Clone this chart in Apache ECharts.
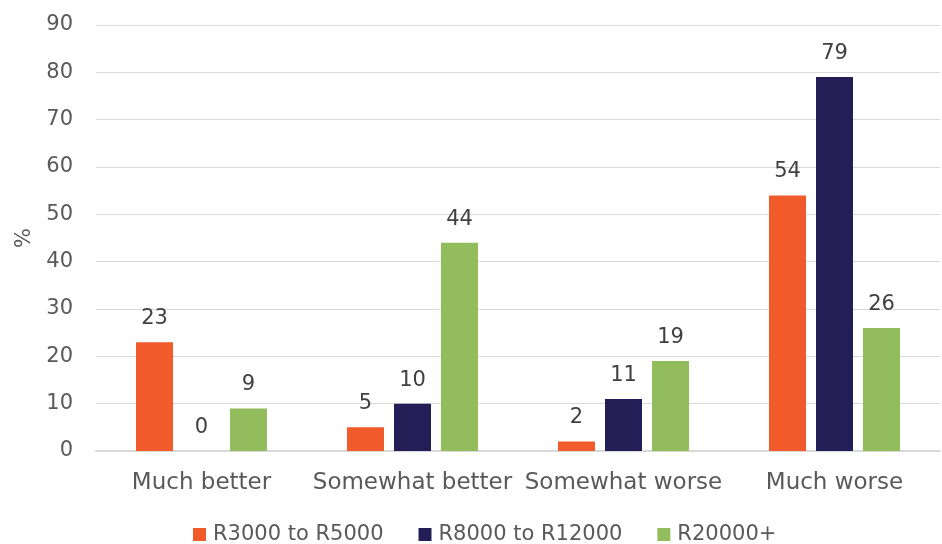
<!DOCTYPE html>
<html>
<head>
<meta charset="utf-8">
<script src="https://cdn.jsdelivr.net/npm/echarts@6/dist/echarts.min.js"></script>
<style>
html, body { margin: 0; padding: 0; background: #fff; }
#chart { width: 942px; height: 544px; }
</style>
</head>
<body>
<div id="chart"></div>
<script>
// Change in household situation, by income band (%)
const categories = ['Much better', 'Somewhat better', 'Somewhat worse', 'Much worse'];
const seriesNames = ['R3000 to R5000', 'R8000 to R12000', 'R20000+'];
const low = [23, 5, 2, 54];
const mid = [0, 10, 11, 79];
const high = [9, 44, 19, 26];
const colors = ['#F15A2B', '#231E55', '#93BC5C'];

const font = '"Century Gothic", "DejaVu Sans", sans-serif';
const textColor = '#595959';

const values = [low, mid, high];
const series = seriesNames.map((name, i) => ({
  name: name,
  type: 'bar',
  data: values[i],
  barWidth: 37,
  barGap: '27%',
  itemStyle: { color: colors[i] },
  label: {
    show: true,
    position: 'top',
    distance: 13,
    fontFamily: font,
    fontSize: 21,
    color: '#404040'
  }
}));

const chart = echarts.init(document.getElementById('chart'), null, { renderer: 'canvas' });
chart.setOption({
  animation: false,
  color: colors,
  grid: { left: 96, right: 2, top: 25, bottom: 93, containLabel: false },
  legend: {
    top: 524,
    left: 193,
    itemWidth: 13,
    itemHeight: 13,
    itemGap: 35,
    icon: 'rect',
    padding: 0,
    textStyle: { fontFamily: font, fontSize: 21, color: textColor, padding: [0, 0, 0, 2] }
  },
  xAxis: {
    type: 'category',
    data: categories,
    axisLine: { lineStyle: { color: '#D9D9D9', width: 2 } },
    axisTick: { show: false },
    axisLabel: { interval: 0, fontFamily: font, fontSize: 23, color: textColor, margin: 21 }
  },
  yAxis: {
    type: 'value',
    min: 0,
    max: 90,
    interval: 10,
    name: '%',
    nameLocation: 'middle',
    nameGap: 59,
    nameRotate: 90,
    nameTextStyle: { fontFamily: font, fontSize: 21, color: textColor },
    axisLine: { show: false },
    axisTick: { show: false },
    splitLine: { lineStyle: { color: '#D9D9D9', width: 1 } },
    axisLabel: { fontFamily: font, fontSize: 21, color: textColor, margin: 23, padding: [4, 0, 0, 0] }
  },
  series: series
});
</script>
</body>
</html>
